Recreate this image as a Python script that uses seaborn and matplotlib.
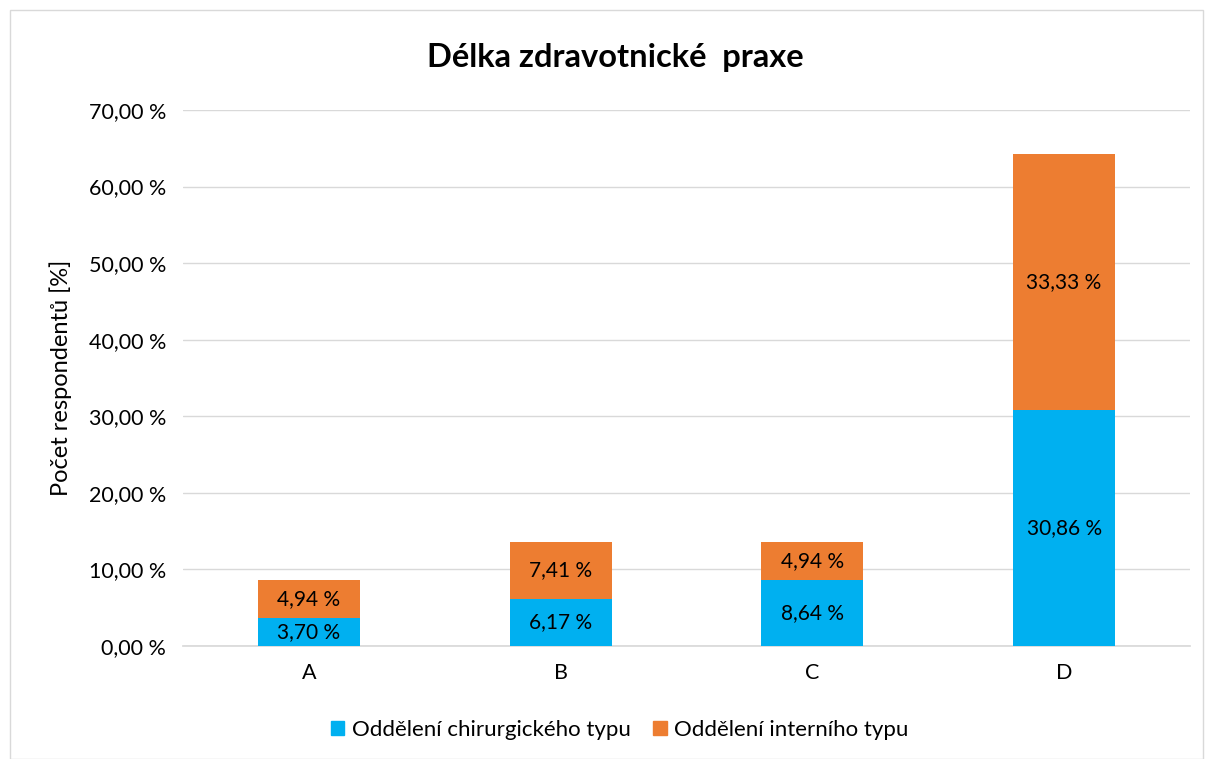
import matplotlib
matplotlib.use("Agg")
import matplotlib.pyplot as plt
import seaborn as sns
import pandas as pd
from matplotlib.patches import Rectangle

categories = ["A", "B", "C", "D"]
chirurg = [3.70, 6.17, 8.64, 30.86]
intern = [4.94, 7.41, 4.94, 33.33]
series_names = ["Oddělení chirurgického typu", "Oddělení interního typu"]
yticks = [0, 10, 20, 30, 40, 50, 60, 70]

BLUE = "#00B0F0"
ORANGE = "#ED7D31"

sns.set_theme(style="white")
plt.rcParams['font.family'] = ['Lato', 'DejaVu Sans']

fig = plt.figure(figsize=(12.10, 7.59), dpi=100)
ax = fig.add_axes([183/1210, 1-646/759, (1190-183)/1210, (646-110)/759])

totals = [c + i for c, i in zip(chirurg, intern)]
df = pd.DataFrame({"cat": categories, "chir": chirurg, "int": intern, "tot": totals})

sns.barplot(data=df, x="cat", y="tot", color=ORANGE, saturation=1, width=0.405, ax=ax,
            zorder=2, linewidth=0, edgecolor="none")
sns.barplot(data=df, x="cat", y="chir", color=BLUE, saturation=1, width=0.405, ax=ax,
            zorder=3, linewidth=0, edgecolor="none")

def fmt(v):
    return f"{v:.2f} %".replace(".", ",")

for k, (c, i) in enumerate(zip(chirurg, intern)):
    ax.text(k, c/2, fmt(c), ha="center", va="center", fontsize=15, color="black", zorder=5)
    ax.text(k, c + i/2, fmt(i), ha="center", va="center", fontsize=15, color="black", zorder=5)

ax.set_xlim(-0.5, 3.5)
ax.set_ylim(0, 70)
ax.set_yticks(yticks)
ax.set_yticklabels([fmt(v) for v in yticks], fontsize=15.5, color="black")
ax.tick_params(axis="x", labelsize=15.5, colors="black", length=0, pad=12)
ax.tick_params(axis="y", length=0, pad=12)
ax.set_xlabel("")
ax.set_ylabel("Počet respondentů [%]", fontsize=17, color="black", labelpad=12)
ax.yaxis.grid(True, color="#D9D9D9", linewidth=1, zorder=0)
ax.set_axisbelow(True)
for s in ["top", "right", "left"]:
    ax.spines[s].set_visible(False)
ax.spines["bottom"].set_color("#D9D9D9")
ax.spines["bottom"].set_zorder(1)

fig.text(615/1210, 1-58/759, "Délka zdravotnické  praxe", ha="center", va="center",
         fontsize=23.5, fontweight="bold", color="black")

handles = [Rectangle((0, 0), 1, 1, color=BLUE), Rectangle((0, 0), 1, 1, color=ORANGE)]
fig.legend(handles, series_names, loc="center", bbox_to_anchor=(620/1210, 1-730/759), ncol=2,
           frameon=False, fontsize=16, handlelength=0.6, handleheight=0.6, handletextpad=0.35,
           columnspacing=1.0, labelcolor="black")

fig.patches.append(Rectangle((10/1210, 0), 1193/1210, 1-10/759, transform=fig.transFigure,
                             fill=False, edgecolor="#D9D9D9", linewidth=1))

fig.savefig("out.png", dpi=100)
